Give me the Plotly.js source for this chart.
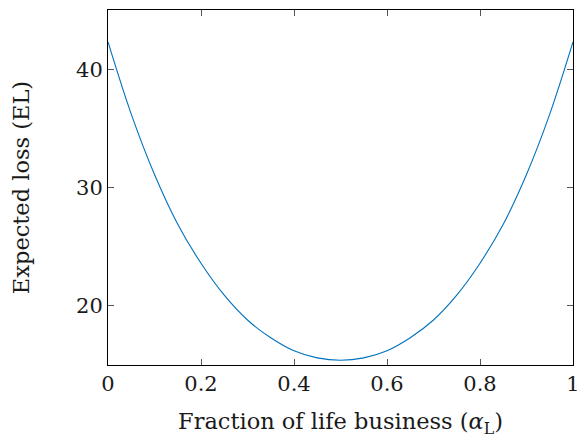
<!DOCTYPE html>
<html>
<head>
<meta charset="utf-8">
<script src="https://cdn.plot.ly/plotly-3.0.1.min.js"></script>
<style>html,body{margin:0;padding:0;background:#fff;}#chart{width:577px;height:438px;}</style>
</head>
<body>
<div id="chart"></div>
<script>
// Fraction of life business (alpha_L)
const alphaL = [0, 0.05, 0.10, 0.15, 0.20, 0.25, 0.30, 0.35, 0.40, 0.45, 0.50,
                0.55, 0.60, 0.65, 0.70, 0.75, 0.80, 0.85, 0.90, 0.95, 1.00];
// Expected loss (EL)
const expectedLoss = [42.3, 36.2, 31.1, 26.9, 23.6, 20.9, 18.8, 17.3, 16.2, 15.6, 15.4,
                      15.6, 16.2, 17.3, 18.8, 20.9, 23.6, 26.9, 31.1, 36.2, 42.3];
const xTicks = [0, 0.2, 0.4, 0.6, 0.8, 1];
const xTickLabels = ["0", "0.2", "0.4", "0.6", "0.8", "1"];
const yTicks = [20, 30, 40];
const yTickLabels = ["20", "30", "40"];

const tickFont = {family: "DejaVu Serif", size: 21, color: "#1a1a1a"};
const titleFont = {family: "DejaVu Serif", size: 22.5, color: "#1a1a1a"};

const trace = {
  x: alphaL, y: expectedLoss, type: "scatter", mode: "lines",
  line: {color: "#0072bd", width: 1.1, shape: "spline", smoothing: 1},
  hoverinfo: "skip"
};

const axisCommon = {
  showline: true, linecolor: "#000", linewidth: 1, mirror: "allticks",
  ticks: "inside", ticklen: 6, tickwidth: 1, tickcolor: "#555",
  showgrid: false, zeroline: false, tickfont: tickFont, ticklabeloverflow: "allow"
};

const layout = {
  width: 577, height: 438,
  margin: {l: 108, r: 4, t: 10, b: 73},
  paper_bgcolor: "#fff", plot_bgcolor: "#fff",
  font: tickFont, showlegend: false,
  xaxis: Object.assign({}, axisCommon, {
    range: [0, 1], tickmode: "array", tickvals: xTicks, ticktext: xTickLabels,
    title: {text: "Fraction of life business (<i>α</i><sub>L</sub>)", font: titleFont, standoff: 20}
  }),
  yaxis: Object.assign({}, axisCommon, {
    range: [15, 45], tickmode: "array", tickvals: yTicks, ticktext: yTickLabels,
    title: {text: "Expected loss (EL)", font: titleFont, standoff: 40}
  })
};

Plotly.newPlot("chart", [trace], layout, {displayModeBar: false, staticPlot: true});
</script>
</body>
</html>
